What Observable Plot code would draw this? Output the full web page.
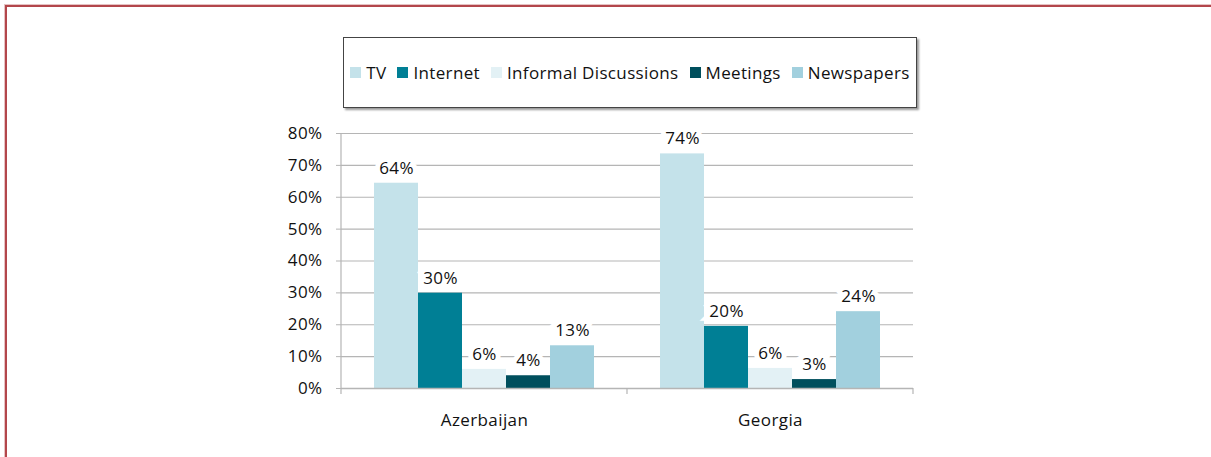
<!DOCTYPE html>
<html>
<head>
<meta charset="utf-8">
<script src="https://cdn.jsdelivr.net/npm/d3@7"></script>
<script src="https://cdn.jsdelivr.net/npm/@observablehq/plot@0.6"></script>
<style>
  html, body { margin: 0; padding: 0; background: #fff; }
  #wrap { position: relative; width: 1211px; height: 457px; overflow: hidden; font-family: "Open Sans", Lato, sans-serif; }
  #frame { position: absolute; left: 5px; top: 5px; width: 1220px; height: 470px; border-left: 2px solid #b3474b; border-top: 2px solid #b3474b; box-shadow: -1px -1px 0 #e6c2c3; }
  #legend { position: absolute; left: 343px; top: 37px; width: 572px; height: 69px; border: 1px solid #444; box-shadow: 2px 2px 2px #999; background: #fff; display: flex; align-items: center; justify-content: center; gap: 11px; font-size: 17px; letter-spacing: 0.35px; color: #111; }
  .item { display: flex; align-items: center; gap: 5px; white-space: nowrap; }
  .sw { width: 11px; height: 11px; display: inline-block; }
  #chart { position: absolute; left: 0; top: 115px; }
  #chart text { letter-spacing: 0.4px; }
</style>
</head>
<body>
<div id="wrap">
  <div id="frame"></div>
  <div id="legend"></div>
  <div id="chart"></div>
</div>
<script>
const countries = ["Azerbaijan", "Georgia"];
const sources = ["TV", "Internet", "Informal Discussions", "Meetings", "Newspapers"];
const colors = ["#c4e2ea", "#007f95", "#e3f1f5", "#004f5d", "#a2d0de"];
const azerbaijan = [0.644, 0.299, 0.060, 0.040, 0.134];
const georgia = [0.736, 0.195, 0.063, 0.028, 0.241];
const yTicks = [0, 0.1, 0.2, 0.3, 0.4, 0.5, 0.6, 0.7, 0.8];

const seriesByCountry = [azerbaijan, georgia];
const data = [];
countries.forEach((c, i) => sources.forEach((s, j) => data.push({country: c, source: s, value: seriesByCountry[i][j]})));

const legend = document.getElementById("legend");
sources.forEach((s, j) => {
  const it = document.createElement("div");
  it.className = "item";
  it.innerHTML = `<span class="sw" style="background:${colors[j]}"></span><span>${s}</span>`;
  legend.appendChild(it);
});

const fmt = d3.format(".0%");
const plot = Plot.plot({
  width: 1211,
  height: 330,
  marginLeft: 341,
  marginRight: 298,
  marginTop: 18,
  marginBottom: 57,
  style: {fontFamily: "'Open Sans', Lato, sans-serif", fontSize: "17px", color: "#111", background: "transparent", overflow: "visible"},
  fx: {domain: countries, padding: 0, label: null, axis: null},
  x: {domain: sources, paddingInner: 0, paddingOuter: 0.75, axis: null},
  y: {domain: [0, 0.8], ticks: yTicks, tickFormat: fmt, label: null, axis: null},
  color: {domain: sources, range: colors},
  marks: [
    Plot.gridY(yTicks, {stroke: "#b5b5b5", strokeOpacity: 1, strokeWidth: 1.2}),
    Plot.axisY(yTicks, {tickFormat: fmt, tickSize: 5, stroke: "#b5b5b5", fill: "#111", fontSize: 17, tickPadding: 14, label: null, anchor: "left"}),
    Plot.barY(data, {fx: "country", x: "source", y: "value", fill: "source", inset: 0}),
    Plot.text(data, {fx: "country", x: "source", y: "value", text: d => fmt(d.value), dy: -15, fontSize: 17, fill: "#111", stroke: "white", strokeWidth: 10, strokeLinejoin: "miter"}),
    Plot.ruleY([0], {stroke: "#b5b5b5", strokeWidth: 1.5}),
    Plot.text(countries, {fx: d => d, frameAnchor: "bottom", dy: 37, text: d => d, fontSize: 17, fill: "#111"})
  ]
});
document.getElementById("chart").appendChild(plot);

// axis lines & category ticks (drawn from scales)
const svg = d3.select(plot);
const fxs = plot.scale("fx");
const ys = plot.scale("y");
const bw = fxs.bandwidth;
const edges = [fxs.apply(countries[0]), fxs.apply(countries[0]) + bw, fxs.apply(countries[1]) + bw];
const g = svg.append("g").attr("stroke", "#b5b5b5").attr("stroke-width", 1.2);
g.append("line").attr("x1", edges[0]).attr("x2", edges[0]).attr("y1", ys.apply(0.8)).attr("y2", ys.apply(0));
edges.forEach(x => g.append("line").attr("x1", x).attr("x2", x).attr("y1", ys.apply(0)).attr("y2", ys.apply(0) + 6));
</script>
</body>
</html>
